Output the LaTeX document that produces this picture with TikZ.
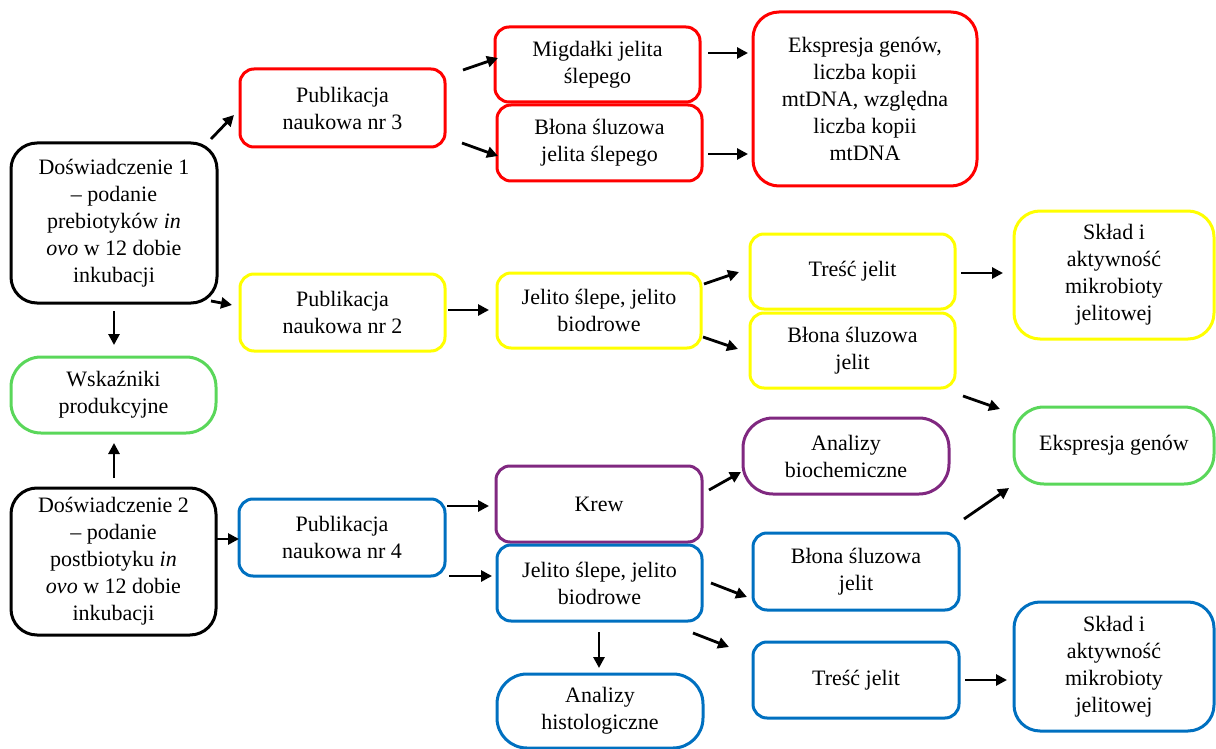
\documentclass[tikz,border=0pt]{standalone}
\usepackage{fontspec}
\setmainfont{Liberation Serif}
\usetikzlibrary{arrows.meta}
\definecolor{cred}{RGB}{255,0,0}
\definecolor{cyel}{RGB}{255,255,0}
\definecolor{cgreen}{RGB}{90,215,90}
\definecolor{cblue}{RGB}{0,112,192}
\definecolor{cpurp}{RGB}{128,40,128}
\tikzset{
  box/.style={draw, line width=3pt, rounded corners=14pt, align=center,
    inner sep=0pt, font=\fontsize{22}{27}\selectfont},
  bigr/.style={rounded corners=26pt},
  pill/.style={rounded corners=30pt},
  arr/.style={line width=2.8pt, -{Triangle[length=11pt,width=11pt]}},
}
\newcommand{\bx}[7]{% name, color, x1, x2, y1, y2, extra
  \node[box, draw=#2, #7, minimum width={#4-#3}, minimum height={#6-#5}]
    (#1) at ({(#3+#4)/2},{(#5+#6)/2})}
\begin{document}
\begin{tikzpicture}[x=1pt,y=-1pt]
\useasboundingbox (0,0) rectangle (1216,749);
% left column
\bx{d1}{black}{11}{217}{143}{303}{bigr} {Doświadczenie 1\\– podanie\\prebiotyków \textit{in}\\\textit{ovo} w 12 dobie\\inkubacji};
\bx{wsk}{cgreen}{11}{216}{357}{433}{pill} {Wskaźniki\\produkcyjne};
\bx{d2}{black}{11}{216}{488}{635}{bigr} {Doświadczenie 2\\– podanie\\postbiotyku \textit{in}\\\textit{ovo} w 12 dobie\\inkubacji};
% publications
\bx{pub3}{cred}{240}{445}{69}{147}{} {Publikacja\\naukowa nr 3};
\bx{pub2}{cyel}{240}{445}{274}{351}{} {Publikacja\\naukowa nr 2};
\bx{pub4}{cblue}{239}{445}{499}{576}{} {Publikacja\\naukowa nr 4};
% third column
\bx{migd}{cred}{495}{700}{27}{102}{} {Migdałki jelita\\ślepego};
\bx{blonar}{cred}{497}{702}{105}{181}{} {Błona śluzowa\\jelita ślepego};
\bx{jely}{cyel}{497}{701}{273}{348}{} {Jelito ślepe, jelito\\biodrowe};
\bx{krew}{cpurp}{496}{702}{466}{542}{} {Krew};
\bx{jelb}{cblue}{497}{702}{545}{621}{} {Jelito ślepe, jelito\\biodrowe};
\bx{hist}{cblue}{497}{703}{674}{748}{pill} {Analizy\\histologiczne};
% fourth column
\bx{ekspr}{cred}{753}{977}{12}{186}{bigr} {Ekspresja genów,\\liczba kopii\\mtDNA, względna\\liczba kopii\\mtDNA};
\bx{tresy}{cyel}{750}{955}{234}{309}{} {Treść jelit};
\bx{blonay}{cyel}{750}{955}{313}{388}{} {Błona śluzowa\\jelit};
\bx{anbio}{cpurp}{743}{949}{418}{494}{pill} {Analizy\\biochemiczne};
\bx{blonab}{cblue}{753}{959}{533}{610}{} {Błona śluzowa\\jelit};
\bx{tresb}{cblue}{753}{959}{642}{718}{} {Treść jelit};
% fifth column
\bx{skly}{cyel}{1014}{1214}{211}{339}{bigr} {Skład i\\aktywność\\mikrobioty\\jelitowej};
\bx{ekspg}{cgreen}{1014}{1214}{407}{484}{pill} {Ekspresja genów};
\bx{sklb}{cblue}{1014}{1214}{602}{731}{bigr} {Skład i\\aktywność\\mikrobioty\\jelitowej};
% arrow end points
\coordinate (a1s) at (211,139);  \coordinate (a1e) at (234,115);
\coordinate (a2s) at (211,301);  \coordinate (a2e) at (232,305);
\coordinate (a3s) at (114,311);  \coordinate (a3e) at (114,345);
\coordinate (a4s) at (114,478);  \coordinate (a4e) at (114,443);
\coordinate (a5s) at (217,539);  \coordinate (a5e) at (239,539);
\coordinate (a6s) at (463,70);   \coordinate (a6e) at (498,58);
\coordinate (a7s) at (462,143);  \coordinate (a7e) at (498,156);
\coordinate (a8s) at (708,53);   \coordinate (a8e) at (748,53);
\coordinate (a9s) at (708,154);  \coordinate (a9e) at (748,154);
\coordinate (a10s) at (448,310); \coordinate (a10e) at (489,310);
\coordinate (a11s) at (704,284); \coordinate (a11e) at (739,272);
\coordinate (a12s) at (703,337); \coordinate (a12e) at (738,349);
\coordinate (a13s) at (961,273); \coordinate (a13e) at (1003,273);
\coordinate (a14s) at (963,396); \coordinate (a14e) at (1000,409);
\coordinate (a15s) at (447,506); \coordinate (a15e) at (489,506);
\coordinate (a16s) at (449,576); \coordinate (a16e) at (492,576);
\coordinate (a17s) at (709,490); \coordinate (a17e) at (741,472);
\coordinate (a18s) at (711,583); \coordinate (a18e) at (747,597);
\coordinate (a19s) at (693,633); \coordinate (a19e) at (729,647);
\coordinate (a20s) at (599,632); \coordinate (a20e) at (599,668);
\coordinate (a21s) at (964,519); \coordinate (a21e) at (1009,488);
\coordinate (a22s) at (965,680); \coordinate (a22e) at (1007,680);
\foreach \i in {1,...,22} \draw[arr] (a\i s) -- (a\i e);
\end{tikzpicture}
\end{document}
